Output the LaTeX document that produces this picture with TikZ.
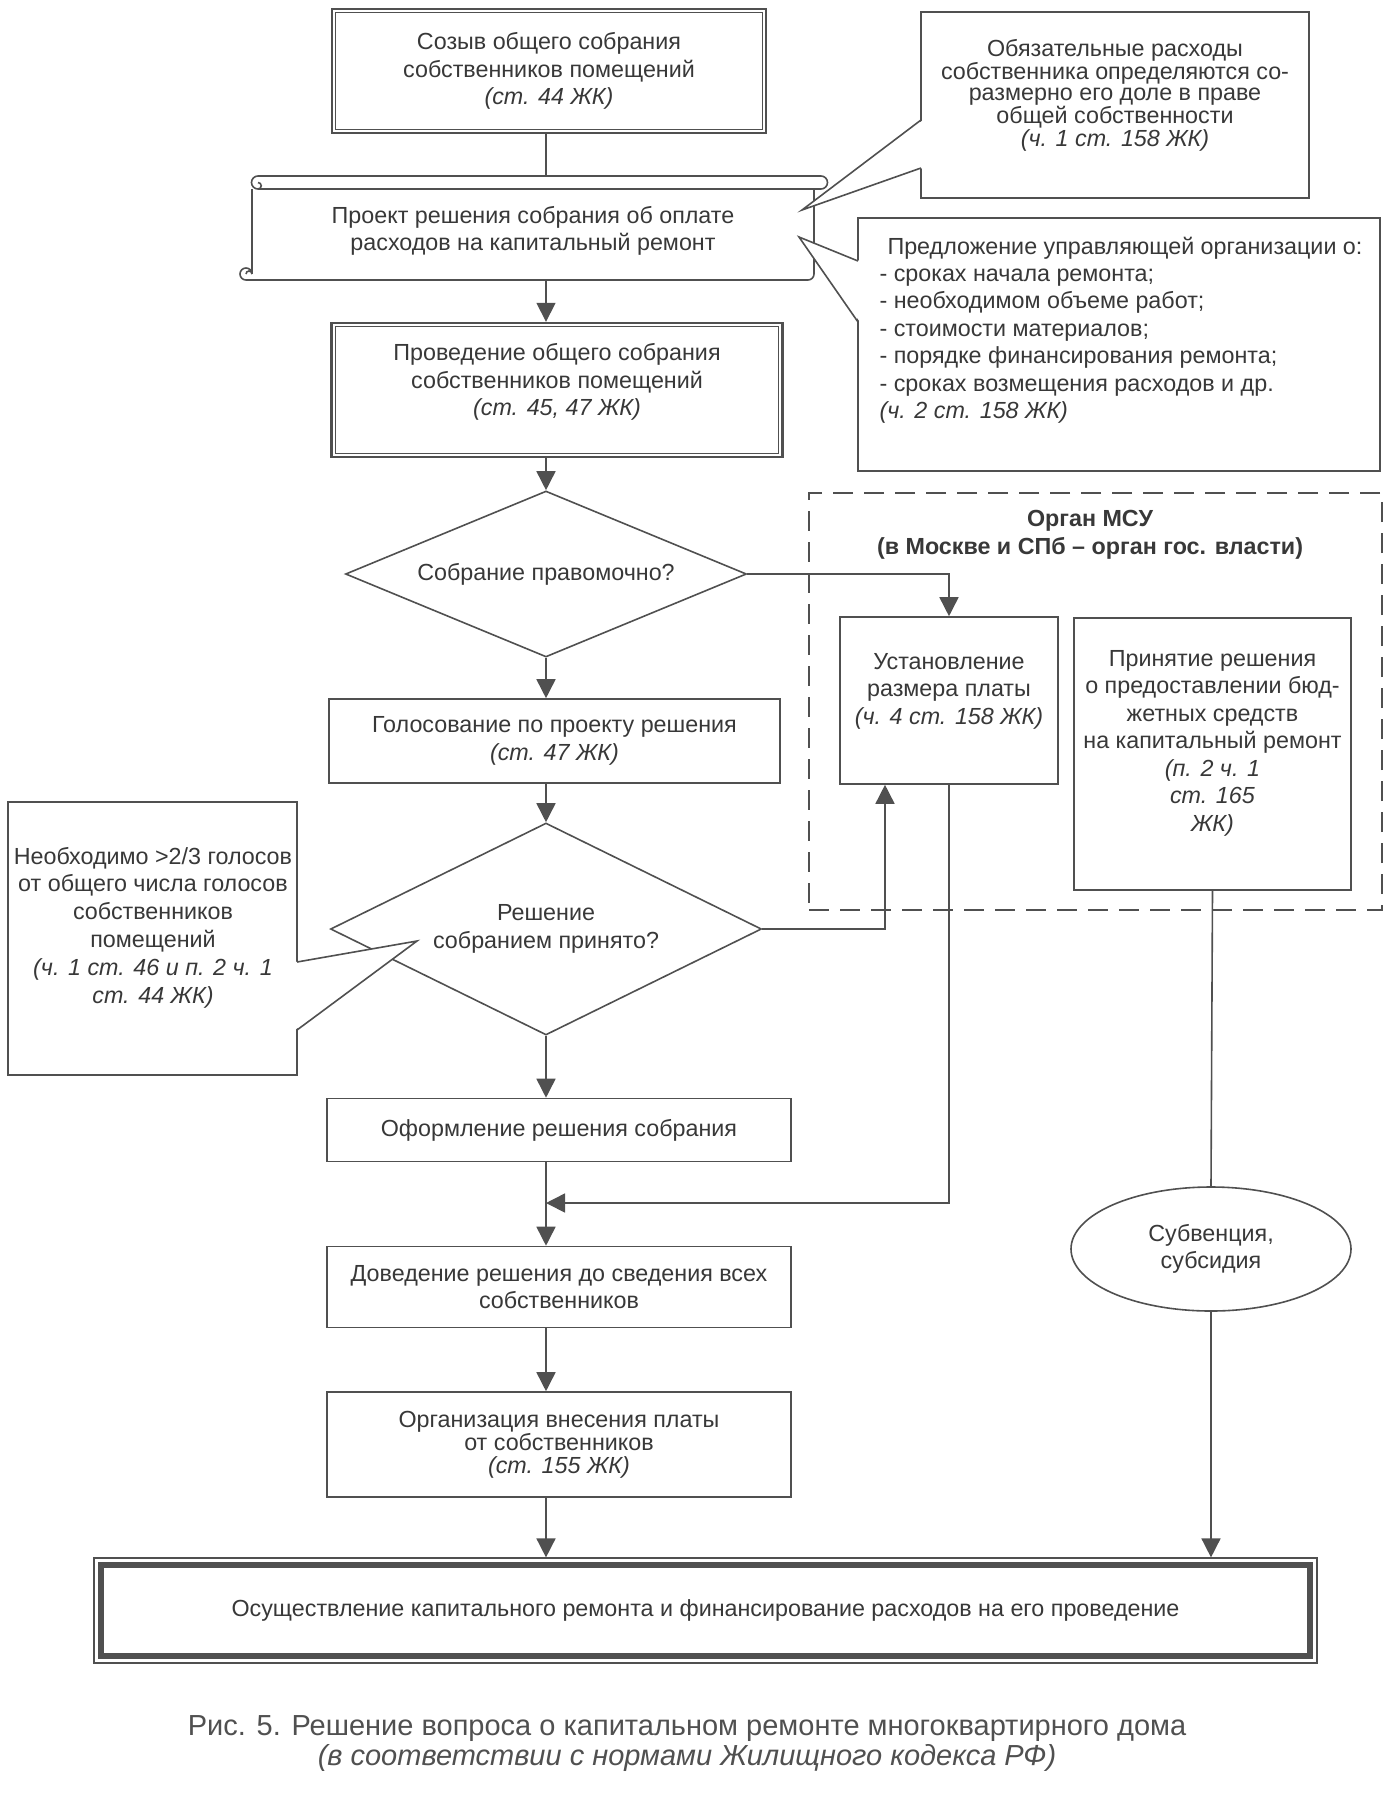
\documentclass[tikz,border=0pt]{standalone}
\usepackage{fontspec}
\setmainfont{Liberation Sans}
\usetikzlibrary{shapes.geometric,arrows.meta}
\definecolor{ink}{HTML}{505050}
\definecolor{txt}{HTML}{383838}

\begin{document}
\begin{tikzpicture}[
    x=1pt, y=-1pt,
    every node/.style={text=txt, font=\fontsize{23.3}{27.5}\selectfont, align=center},
    box/.style={draw=ink, line width=1.6pt, rectangle, fill=white, inner sep=0pt},
    dbox/.style={box, line width=2.4pt},
    decision/.style={draw=ink, line width=1.6pt, diamond, aspect=2.4, inner sep=0pt},
    arrow/.style={draw=ink, line width=1.6pt, -{Triangle[length=19pt,width=19pt]}},
    line/.style={draw=ink, line width=1.6pt}
]
    \useasboundingbox (0,0) rectangle (1387,1800);
    \coordinate (col) at (546,0);

    % main column
    \node[dbox, minimum width=434pt, minimum height=124pt] (convene) at (549,71) {Созыв общего собрания\\собственников помещений\\\textit{(ст. 44 ЖК)}};
    \draw[ink, line width=0.9pt] ([shift={(5,5)}]convene.north west) rectangle ([shift={(-5,-5)}]convene.south east);

    \node (draft) at (533,231) {Проект решения собрания об оплате\\расходов на капитальный ремонт};
    \coordinate (drafttop) at (546,176);
    \coordinate (draftbot) at (546,280);
    \draw[line] (258,176) -- (821,176) arc[start angle=-90, end angle=90, radius=6.5] -- (258,189) arc[start angle=90, end angle=270, radius=6.5];
    \draw[line] (258,189) arc[start angle=90, end angle=-90, radius=3.25];
    \draw[line] (252,189) -- (252,274);
    \draw[line] (814,189) -- (814,274) arc[start angle=0, end angle=90, radius=6] -- (246,280) arc[start angle=90, end angle=360, radius=6];
    \draw[line] (252,274) arc[start angle=0, end angle=-180, radius=3];

    \node[dbox, minimum width=451pt, minimum height=134pt] (meeting) at (557,390) {};
    \draw[ink, line width=0.9pt] ([shift={(5,5)}]meeting.north west) rectangle ([shift={(-5,-5)}]meeting.south east);
    \node (meetingtext) at (557,382) {Проведение общего собрания\\собственников помещений\\\textit{(ст. 45, 47 ЖК)}};

    \node[decision, minimum width=401pt, minimum height=166pt] (valid) at (546,574) {Собрание правомочно?};
    \node[box, minimum width=451pt, minimum height=84pt] (vote) at (554.5,741) {Голосование по проекту решения\\\textit{(ст. 47 ЖК)}};
    \node[decision, aspect=2, minimum width=431pt, minimum height=212pt] (adopted) at (546,929) {Решение\\собранием принято?};
    \node[box, minimum width=464pt, minimum height=63pt] (form) at (559,1130) {Оформление решения собрания};
    \coordinate (join) at (546,1203);
    \node[box, minimum width=464pt, minimum height=81pt] (notify) at (559,1287) {Доведение решения до сведения всех\\собственников};
    \node[box, minimum width=464pt, minimum height=105pt, font=\fontsize{23.3}{23}\selectfont] (org) at (559,1444.5) {Организация внесения платы\\от собственников\\\textit{(ст. 155 ЖК)}};
    \node[box, line width=1.2pt, minimum width=1223pt, minimum height=105pt] (final) at (705.5,1610.5) {Осуществление капитального ремонта и финансирование расходов на его проведение};
    \draw[ink, line width=6pt] ([shift={(8,8)}]final.north west) rectangle ([shift={(-8,-8)}]final.south east);

    % local authority
    \node[draw=ink, line width=2.6pt, dash pattern=on 20pt off 11pt, minimum width=573pt, minimum height=417pt, inner sep=0pt] (msu) at (1095.5,701.5) {};
    \node[font=\bfseries\fontsize{23.3}{28}\selectfont] (msutitle) at (1090,535) {Орган МСУ\\(в Москве и СПб – орган гос. власти)};
    \node[box, minimum width=218pt, minimum height=167pt] (rate) at (949,700.5) {};
    \node (ratetext) at (949,691) {Установление\\размера платы\\\textit{(ч. 4 ст. 158 ЖК)}};
    \node[box, minimum width=277pt, minimum height=272pt] (budget) at (1212.5,754) {};
    \node (budgettext) at (1212.5,743) {Принятие решения\\о предоставлении бюд-\\жетных средств\\на капитальный ремонт\\\textit{(п. 2 ч. 1}\\\textit{ст. 165}\\\textit{ЖК)}};
    \node[box, ellipse, minimum width=280pt, minimum height=124pt] (grant) at (1211,1249) {Субвенция,\\субсидия};

    % connectors
    \draw[line] (col |- convene.south) -- (drafttop);
    \draw[arrow] (draftbot) -- (col |- meeting.north);
    \draw[arrow] (col |- meeting.south) -- (valid.north);
    \draw[arrow] (valid.south) -- (col |- vote.north);
    \draw[arrow] (col |- vote.south) -- (adopted.north);
    \draw[arrow] (adopted.south) -- (col |- form.north);
    \draw[arrow] (col |- form.south) -- (col |- notify.north);
    \draw[arrow] (col |- notify.south) -- (col |- org.north);
    \draw[arrow] (col |- org.south) -- (col |- final.north);
    \draw[arrow] (valid.east) -| (rate.north);
    \draw[arrow] (adopted.east) -| ([xshift=-64pt]rate.south);
    \draw[arrow] (rate.south) |- (join);
    \draw[line] (budget.south) -- (grant.north);
    \draw[arrow] (grant.south) -- (grant.south |- final.north);

    % callouts
    \node[box, minimum width=388pt, minimum height=186pt] (share) at (1115,105) {};
    \node[font=\fontsize{23.3}{21.5}\selectfont] (sharetext) at (1115,95) {Обязательные расходы\\собственника определяются со-\\размерно его доле в праве\\общей собственности\\\textit{(ч. 1 ст. 158 ЖК)}};
    \fill[white] (923,120) -- (802,210) -- (923,168) -- cycle;
    \draw[line] (921,120) -- (802,210) -- (921,168);

    \node[box, minimum width=522pt, minimum height=253pt] (offer) at (1119,344.5) {};
    \node[anchor=west, align=left, font=\fontsize{23.3}{27.4}\selectfont] (offertext) at (876,330) {\hspace*{8pt}Предложение управляющей организации о:\\- сроках начала ремонта;\\- необходимом объеме работ;\\- стоимости материалов;\\- порядке финансирования ремонта;\\- сроках возмещения расходов и др.\\\textit{(ч. 2 ст. 158 ЖК)}};
    \fill[white] (860,261) -- (799,237) -- (860,322) -- cycle;
    \draw[line] (858,261) -- (799,237) -- (858,322);

    \node[box, minimum width=289pt, minimum height=273pt] (quorum) at (152.5,938.5) {};
    \node[font=\fontsize{23.3}{27.8}\selectfont] (quorumtext) at (153,927.5) {Необходимо >2/3 голосов\\от общего числа голосов\\собственников\\помещений\\\textit{(ч. 1 ст. 46 и п. 2 ч. 1}\\\textit{ст. 44 ЖК)}};
    \fill[white] (295,962) -- (417,941) -- (295,1030) -- cycle;
    \draw[line] (297,962) -- (417,941) -- (297,1030);

    % caption
    \node[text=ink, font=\fontsize{29}{30}\selectfont] (caption) at (687,1744) {Рис. 5. Решение вопроса о капитальном ремонте многоквартирного дома\\\textit{(в соответствии с нормами Жилищного кодекса РФ)}};
\end{tikzpicture}
\end{document}
